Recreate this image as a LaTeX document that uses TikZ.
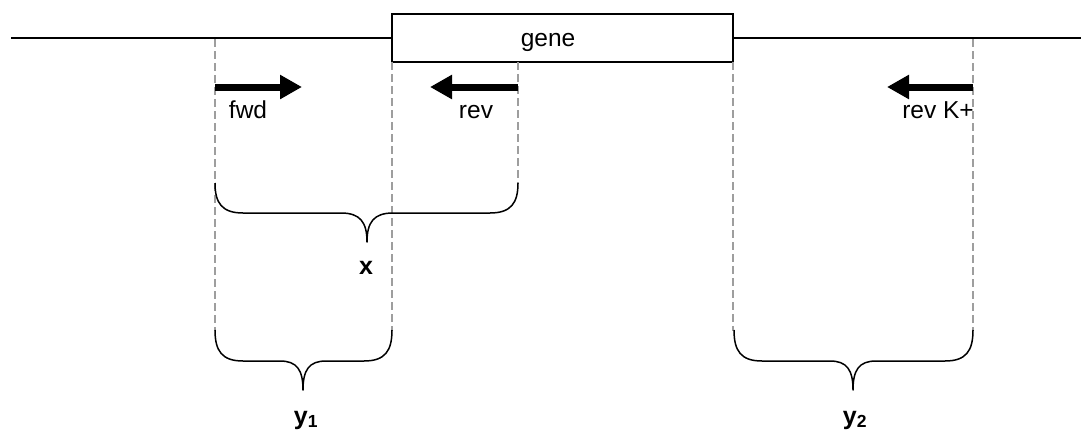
\documentclass[tikz,border=0pt]{standalone}
\usepackage{fontspec}
\setmainfont{Liberation Sans}
\usetikzlibrary{arrows.meta}
\begin{document}
\begin{tikzpicture}[x=1pt,y=-1pt,
  lbl/.style={font=\fontsize{24.5}{28}\selectfont, inner sep=0pt, anchor=base},
  blbl/.style={font=\fontsize{25}{28}\selectfont\bfseries, inner sep=0pt, anchor=base},
  guide/.style={draw=black!38, line width=1.2pt, dash pattern=on 8pt off 4pt},
  primer/.style={line width=7pt, -{Triangle[length=22pt,width=23pt]}},
  brace/.style={line width=1.5pt, line join=round},
  mainline/.style={line width=1.3pt}]
\useasboundingbox (0,0) rectangle (1081,434);

% gene box and main line
\node[draw, line width=1.4pt, minimum width=341pt, minimum height=48pt, inner sep=0pt] (genebox) at (562.5,38) {};
\node[lbl] (genelabel) at (548,46) {gene};
\coordinate (lineL) at (11,38);
\coordinate (lineR) at (1081,38);
\draw[mainline] (lineL) -- (genebox.west);
\draw[mainline] (genebox.east) -- (lineR);

% guide coordinates
\coordinate (g1t) at (215,39);  \coordinate (g1b) at (215,331);
\coordinate (g2t) at (392,62);  \coordinate (g2b) at (392,331);
\coordinate (g3t) at (518,62);  \coordinate (g3b) at (518,184);
\coordinate (g4t) at (733,62);  \coordinate (g4b) at (733,331);
\coordinate (g5t) at (973,39);  \coordinate (g5b) at (973,331);
\draw[guide] (g1t) -- (g1b);
\draw[guide] (g2t) -- (g2b);
\draw[guide] (g3t) -- (g3b);
\draw[guide] (g4t) -- (g4b);
\draw[guide] (g5t) -- (g5b);

% primers
\coordinate (fs) at (215,87); \coordinate (fe) at (302,87);
\coordinate (rs) at (518,87); \coordinate (re) at (430,87);
\coordinate (ks) at (973,87); \coordinate (ke) at (887,87);
\draw[primer] (fs) -- (fe);
\draw[primer] (rs) -- (re);
\draw[primer] (ks) -- (ke);
\node[lbl] (fwdlabel) at (248,118) {fwd};
\node[lbl] (revlabel) at (476,118) {rev};
\node[lbl, anchor=base east] (revklabel) at (974,118) {rev K+};

% brace x
\draw[brace] (215,183) .. controls (215,203) and (222,213) .. (243,213) -- (341,213)
  .. controls (360,213) and (367,222) .. (367,242) .. controls (367,222) and (374,213) .. (393,213)
  -- (490,213) .. controls (511,213) and (518,203) .. (518,183);
\node[blbl] (xlabel) at (366,274) {x};

% brace y1
\draw[brace] (215,330) .. controls (215,351) and (222,361) .. (243,361) -- (280,361)
  .. controls (297,361) and (303,370) .. (303,390) .. controls (303,370) and (309,361) .. (326,361)
  -- (364,361) .. controls (385,361) and (392,351) .. (392,330);
\node[blbl] (y1label) at (306,424) {y\textsubscript{1}};

% brace y2
\draw[brace] (734,330) .. controls (734,351) and (741,361) .. (762,361) -- (830,361)
  .. controls (847,361) and (853,370) .. (853,390) .. controls (853,370) and (859,361) .. (876,361)
  -- (945,361) .. controls (966,361) and (973,351) .. (973,330);
\node[blbl] (y2label) at (855,424) {y\textsubscript{2}};
\end{tikzpicture}
\end{document}
